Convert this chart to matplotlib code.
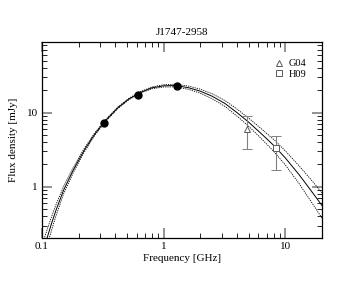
import matplotlib
matplotlib.use("Agg")
import matplotlib.pyplot as plt
from matplotlib.lines import Line2D
from matplotlib.ticker import FuncFormatter, NullFormatter, LogLocator

plt.rcParams['font.family'] = ['Liberation Serif', 'DejaVu Serif']

# measured flux densities (this work)
freq_obs = [0.325, 0.61, 1.28]
flux_obs = [7.3, 17.1, 23.0]

# literature points
freq_g04 = [4.8]
flux_g04 = [6.1]
err_g04 = [2.9]
freq_h09 = [8.4]
flux_h09 = [3.3]
err_h09 = [1.6]

# fitted spectrum and its bounds
fit_freq = [0.1, 0.105, 0.11, 0.12, 0.13, 0.15, 0.18, 0.22, 0.27, 0.33, 0.42, 0.52,
            0.65, 0.8, 1.0, 1.25, 1.6, 2.0, 2.5, 3.2, 4.0, 5.0, 6.3, 8.0, 10, 13, 16, 20]
fit_mid = [0.115, 0.155, 0.204, 0.324, 0.479, 0.891, 1.66, 3.02, 5.07, 7.67, 11.6, 15.3,
           18.8, 21.5, 22.9, 23.1, 21.6, 19.4, 16.6, 13.2, 10.0, 7.41, 5.25, 3.63, 2.45, 1.45, 0.923, 0.562]
fit_hi = [0.161, 0.209, 0.263, 0.399, 0.570, 1.00, 1.80, 3.20, 5.28, 7.90, 11.87, 15.65,
          19.23, 22.1, 23.7, 24.07, 22.72, 20.64, 17.91, 14.47, 11.14, 8.41, 6.11, 4.36, 3.05, 1.91, 1.29, 0.831]
fit_lo = [0.082, 0.115, 0.158, 0.263, 0.403, 0.794, 1.53, 2.85, 4.87, 7.45, 11.34, 14.96,
          18.38, 20.9, 22.1, 22.17, 20.53, 18.23, 15.38, 12.04, 8.98, 6.53, 4.51, 3.02, 1.97, 1.10, 0.661, 0.380]

fig = plt.figure(figsize=(3.63, 2.81), dpi=100)
ax = fig.add_axes([0.1157, 0.153, 0.7713, 0.6975])

ax.plot(fit_freq, fit_hi, color='black', lw=0.6, ls=(0, (1.5, 1.2)))
ax.plot(fit_freq, fit_lo, color='black', lw=0.6, ls=(0, (1.5, 1.2)))
ax.plot(fit_freq, fit_mid, color='black', lw=0.7)

ax.errorbar(freq_g04, flux_g04, yerr=err_g04, fmt='^', ms=4, mfc='white', mec='0.35',
            mew=0.7, ecolor='0.5', elinewidth=0.8, capsize=3.5, capthick=0.8)
ax.errorbar(freq_h09, flux_h09, yerr=err_h09, fmt='s', ms=4, mfc='white', mec='0.35',
            mew=0.7, ecolor='0.5', elinewidth=0.8, capsize=3.5, capthick=0.8)
ax.plot(freq_obs, flux_obs, 'o', color='black', ms=5)

ax.set_xscale('log')
ax.set_yscale('log')
ax.set_xlim(0.1, 20)
ax.set_ylim(0.205, 89)

fmt = FuncFormatter(lambda v, _: f'{v:g}')
for axis in (ax.xaxis, ax.yaxis):
    axis.set_major_locator(LogLocator(base=10))
    axis.set_minor_locator(LogLocator(base=10, subs=range(2, 10)))
    axis.set_major_formatter(fmt)
    axis.set_minor_formatter(NullFormatter())

ax.tick_params(which='both', direction='in', top=True, right=True, labelsize=8)
ax.tick_params(which='major', length=7, width=1.2, color='0.5', pad=3)
ax.tick_params(which='minor', length=3.5, width=0.6, color='black')
for sp in ax.spines.values():
    sp.set_linewidth(0.9)

ax.set_title('J1747-2958', fontsize=8, pad=5)
ax.set_xlabel('Frequency [GHz]', fontsize=8, labelpad=2)
ax.set_ylabel('Flux density [mJy]', fontsize=8, labelpad=6)

handles = [Line2D([], [], marker='^', ls='none', ms=4, mfc='white', mec='0.35', mew=0.7),
           Line2D([], [], marker='s', ls='none', ms=4, mfc='white', mec='0.35', mew=0.7)]
ax.legend(handles, ['G04', 'H09'], loc='upper right', bbox_to_anchor=(0.97, 0.95),
          frameon=False, fontsize=7.5, handlelength=0.8, handletextpad=0.5,
          labelspacing=0.1, borderpad=0.2)

fig.savefig('out.png', dpi=100)
